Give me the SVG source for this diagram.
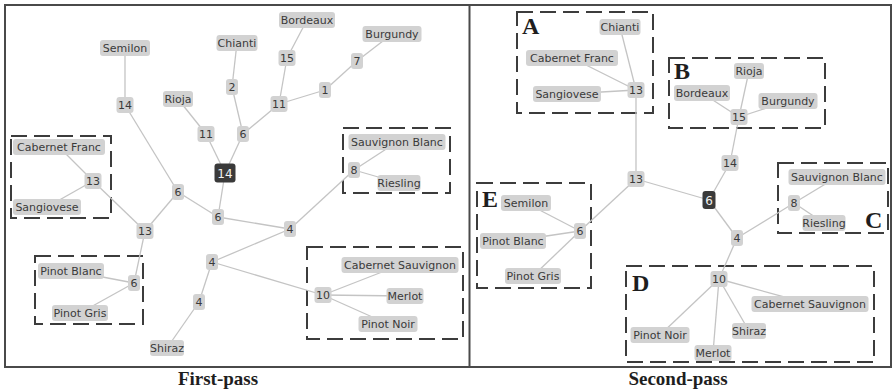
<svg xmlns="http://www.w3.org/2000/svg" width="892" height="391" viewBox="0 0 892 391">
  <style>
    .frame { fill: none; stroke: #4a4a4a; stroke-width: 2; }
    .group { fill: none; stroke: #3c3c3c; stroke-width: 2; stroke-dasharray: 16 7; }
    .edges line { stroke: #c4c4c4; stroke-width: 1.3; }
    .lab rect { fill: #d2d2d2; }
    .lab text { font-family: "DejaVu Sans", "Liberation Sans", sans-serif; font-size: 11px; fill: #3a3a3a; text-anchor: middle; }
    .dark rect { fill: #3a3a3a; }
    .dark text { fill: #f2f2f2; font-size: 12px; }
    .tag { font-family: "Liberation Serif", serif; font-weight: bold; font-size: 24px; fill: #1e1e1e; }
    .title { font-family: "Liberation Serif", serif; font-weight: bold; font-size: 19px; fill: #1e1e1e; text-anchor: middle; }
  </style>

  <rect width="892" height="391" fill="#ffffff"/>

  <!-- outer frame and panel divider -->
  <rect class="frame" x="5" y="5" width="886" height="362"/>
  <line class="frame" x1="469.5" y1="5" x2="469.5" y2="367"/>

  <!-- dashed cluster boxes -->
  <g id="clusters">
    <rect class="group" x="11" y="136" width="100" height="82"/>
    <rect class="group" x="35" y="256" width="108" height="68"/>
    <rect class="group" x="343" y="128" width="107" height="65"/>
    <rect class="group" x="307" y="247" width="156" height="92"/>
    <rect class="group" x="517" y="12" width="136" height="101"/>
    <rect class="group" x="669" y="58" width="156" height="70"/>
    <rect class="group" x="778" y="163" width="110" height="70"/>
    <rect class="group" x="626" y="266" width="248" height="96"/>
    <rect class="group" x="477" y="183" width="114" height="105"/>
  </g>

  <!-- connectors -->
  <g id="connectors" class="edges">
    <!-- first pass -->
    <line x1="125" y1="48" x2="125" y2="105"/>
    <line x1="125" y1="105" x2="178" y2="192"/>
    <line x1="178" y1="192" x2="145" y2="231"/>
    <line x1="178" y1="192" x2="218" y2="217"/>
    <line x1="145" y1="231" x2="93" y2="181"/>
    <line x1="93" y1="181" x2="59" y2="147"/>
    <line x1="93" y1="181" x2="47" y2="207"/>
    <line x1="145" y1="231" x2="134" y2="283"/>
    <line x1="134" y1="283" x2="71" y2="271"/>
    <line x1="134" y1="283" x2="80" y2="313"/>
    <line x1="237" y1="43" x2="232" y2="87"/>
    <line x1="232" y1="87" x2="243" y2="134"/>
    <line x1="243" y1="134" x2="225" y2="173"/>
    <line x1="243" y1="134" x2="279" y2="104"/>
    <line x1="279" y1="104" x2="287" y2="58"/>
    <line x1="287" y1="58" x2="307" y2="20"/>
    <line x1="279" y1="104" x2="325" y2="90"/>
    <line x1="325" y1="90" x2="357" y2="61"/>
    <line x1="357" y1="61" x2="392" y2="34"/>
    <line x1="178" y1="99" x2="206" y2="134"/>
    <line x1="206" y1="134" x2="225" y2="173"/>
    <line x1="225" y1="173" x2="218" y2="217"/>
    <line x1="218" y1="217" x2="290" y2="229"/>
    <line x1="290" y1="229" x2="354" y2="170"/>
    <line x1="354" y1="170" x2="397" y2="142"/>
    <line x1="354" y1="170" x2="399" y2="183"/>
    <line x1="290" y1="229" x2="212" y2="262"/>
    <line x1="212" y1="262" x2="199" y2="302"/>
    <line x1="199" y1="302" x2="167" y2="348"/>
    <line x1="212" y1="262" x2="323" y2="295"/>
    <line x1="323" y1="295" x2="400" y2="265"/>
    <line x1="323" y1="295" x2="405" y2="296"/>
    <line x1="323" y1="295" x2="388" y2="324"/>
    <!-- second pass -->
    <line x1="620" y1="27" x2="636" y2="90"/>
    <line x1="572" y1="58" x2="636" y2="90"/>
    <line x1="567" y1="94" x2="636" y2="90"/>
    <line x1="636" y1="90" x2="636" y2="179"/>
    <line x1="636" y1="179" x2="580" y2="231"/>
    <line x1="636" y1="179" x2="709" y2="200"/>
    <line x1="580" y1="231" x2="526" y2="203"/>
    <line x1="580" y1="231" x2="513" y2="241"/>
    <line x1="580" y1="231" x2="533" y2="276"/>
    <line x1="709" y1="200" x2="730" y2="163"/>
    <line x1="730" y1="163" x2="739" y2="117"/>
    <line x1="739" y1="117" x2="749" y2="71"/>
    <line x1="739" y1="117" x2="702" y2="93"/>
    <line x1="739" y1="117" x2="788" y2="101"/>
    <line x1="709" y1="200" x2="737" y2="238"/>
    <line x1="737" y1="238" x2="794" y2="203"/>
    <line x1="794" y1="203" x2="837" y2="177"/>
    <line x1="794" y1="203" x2="824" y2="223"/>
    <line x1="737" y1="238" x2="719" y2="279"/>
    <line x1="719" y1="279" x2="810" y2="304"/>
    <line x1="719" y1="279" x2="749" y2="331"/>
    <line x1="719" y1="279" x2="713" y2="353"/>
    <line x1="719" y1="279" x2="660" y2="335"/>
  </g>

  <!-- first-pass nodes -->
  <g id="f-semilon" class="lab"><rect x="100" y="40" width="50" height="16" rx="3"/><text x="125" y="52">Semilon</text></g>
  <g id="f-14a" class="lab"><rect x="116.5" y="97" width="17" height="16" rx="3"/><text x="125" y="109">14</text></g>
  <g id="f-chianti" class="lab"><rect x="216.5" y="35" width="41" height="16" rx="3"/><text x="237" y="47">Chianti</text></g>
  <g id="f-2" class="lab"><rect x="226" y="79" width="12" height="16" rx="3"/><text x="232" y="91">2</text></g>
  <g id="f-rioja" class="lab"><rect x="163" y="91" width="30" height="16" rx="3"/><text x="178" y="103">Rioja</text></g>
  <g id="f-11a" class="lab"><rect x="197.5" y="126" width="17" height="16" rx="3"/><text x="206" y="138">11</text></g>
  <g id="f-6a" class="lab"><rect x="237" y="126" width="12" height="16" rx="3"/><text x="243" y="138">6</text></g>
  <g id="f-14root" class="lab dark"><rect x="214.5" y="163.5" width="21" height="19" rx="3"/><text x="225" y="177.5">14</text></g>
  <g id="f-bordeaux" class="lab"><rect x="279" y="12" width="56" height="16" rx="3"/><text x="307" y="24">Bordeaux</text></g>
  <g id="f-15" class="lab"><rect x="278.5" y="50" width="17" height="16" rx="3"/><text x="287" y="62">15</text></g>
  <g id="f-11b" class="lab"><rect x="270.5" y="96" width="17" height="16" rx="3"/><text x="279" y="108">11</text></g>
  <g id="f-1" class="lab"><rect x="319" y="82" width="12" height="16" rx="3"/><text x="325" y="94">1</text></g>
  <g id="f-7" class="lab"><rect x="351" y="53" width="12" height="16" rx="3"/><text x="357" y="65">7</text></g>
  <g id="f-burgundy" class="lab"><rect x="362.5" y="26" width="59" height="16" rx="3"/><text x="392" y="38">Burgundy</text></g>
  <g id="f-cabfranc" class="lab"><rect x="13" y="139" width="92" height="16" rx="3"/><text x="59" y="151">Cabernet Franc</text></g>
  <g id="f-13a" class="lab"><rect x="84.5" y="173" width="17" height="16" rx="3"/><text x="93" y="185">13</text></g>
  <g id="f-sangiovese" class="lab"><rect x="13" y="199" width="68" height="16" rx="3"/><text x="47" y="211">Sangiovese</text></g>
  <g id="f-6b" class="lab"><rect x="172" y="184" width="12" height="16" rx="3"/><text x="178" y="196">6</text></g>
  <g id="f-13b" class="lab"><rect x="136.5" y="223" width="17" height="16" rx="3"/><text x="145" y="235">13</text></g>
  <g id="f-6c" class="lab"><rect x="212" y="209" width="12" height="16" rx="3"/><text x="218" y="221">6</text></g>
  <g id="f-4a" class="lab"><rect x="284" y="221" width="12" height="16" rx="3"/><text x="290" y="233">4</text></g>
  <g id="f-4b" class="lab"><rect x="206" y="254" width="12" height="16" rx="3"/><text x="212" y="266">4</text></g>
  <g id="f-4c" class="lab"><rect x="193" y="294" width="12" height="16" rx="3"/><text x="199" y="306">4</text></g>
  <g id="f-shiraz" class="lab"><rect x="150" y="340" width="34" height="16" rx="3"/><text x="167" y="352">Shiraz</text></g>
  <g id="f-pinotblanc" class="lab"><rect x="38" y="263" width="66" height="16" rx="3"/><text x="71" y="275">Pinot Blanc</text></g>
  <g id="f-6d" class="lab"><rect x="128" y="275" width="12" height="16" rx="3"/><text x="134" y="287">6</text></g>
  <g id="f-pinotgris" class="lab"><rect x="52" y="305" width="56" height="16" rx="3"/><text x="80" y="317">Pinot Gris</text></g>
  <g id="f-sauvblanc" class="lab"><rect x="348.5" y="134" width="97" height="16" rx="3"/><text x="397" y="146">Sauvignon Blanc</text></g>
  <g id="f-8" class="lab"><rect x="348" y="162" width="12" height="16" rx="3"/><text x="354" y="174">8</text></g>
  <g id="f-riesling" class="lab"><rect x="377.5" y="175" width="43" height="16" rx="3"/><text x="399" y="187">Riesling</text></g>
  <g id="f-cabsauv" class="lab"><rect x="341.5" y="257" width="117" height="16" rx="3"/><text x="400" y="269">Cabernet Sauvignon</text></g>
  <g id="f-10" class="lab"><rect x="314.5" y="287" width="17" height="16" rx="3"/><text x="323" y="299">10</text></g>
  <g id="f-merlot" class="lab"><rect x="386.5" y="288" width="37" height="16" rx="3"/><text x="405" y="300">Merlot</text></g>
  <g id="f-pinotnoir" class="lab"><rect x="358.5" y="316" width="59" height="16" rx="3"/><text x="388" y="328">Pinot Noir</text></g>

  <!-- second-pass nodes -->
  <g id="s-chianti" class="lab"><rect x="599.5" y="19" width="41" height="16" rx="3"/><text x="620" y="31">Chianti</text></g>
  <g id="s-cabfranc" class="lab"><rect x="526" y="50" width="92" height="16" rx="3"/><text x="572" y="62">Cabernet Franc</text></g>
  <g id="s-sangiovese" class="lab"><rect x="533" y="86" width="68" height="16" rx="3"/><text x="567" y="98">Sangiovese</text></g>
  <g id="s-13a" class="lab"><rect x="627.5" y="82" width="17" height="16" rx="3"/><text x="636" y="94">13</text></g>
  <g id="s-13b" class="lab"><rect x="627.5" y="171" width="17" height="16" rx="3"/><text x="636" y="183">13</text></g>
  <g id="s-6e" class="lab"><rect x="574" y="223" width="12" height="16" rx="3"/><text x="580" y="235">6</text></g>
  <g id="s-semilon" class="lab"><rect x="501" y="195" width="50" height="16" rx="3"/><text x="526" y="207">Semilon</text></g>
  <g id="s-pinotblanc" class="lab"><rect x="480" y="233" width="66" height="16" rx="3"/><text x="513" y="245">Pinot Blanc</text></g>
  <g id="s-pinotgris" class="lab"><rect x="505" y="268" width="56" height="16" rx="3"/><text x="533" y="280">Pinot Gris</text></g>
  <g id="s-6root" class="lab dark"><rect x="702.5" y="191" width="13" height="18" rx="3"/><text x="709" y="204.5">6</text></g>
  <g id="s-14" class="lab"><rect x="721.5" y="155" width="17" height="16" rx="3"/><text x="730" y="167">14</text></g>
  <g id="s-15" class="lab"><rect x="730.5" y="109" width="17" height="16" rx="3"/><text x="739" y="121">15</text></g>
  <g id="s-rioja" class="lab"><rect x="734" y="63" width="30" height="16" rx="3"/><text x="749" y="75">Rioja</text></g>
  <g id="s-bordeaux" class="lab"><rect x="674" y="85" width="56" height="16" rx="3"/><text x="702" y="97">Bordeaux</text></g>
  <g id="s-burgundy" class="lab"><rect x="758.5" y="93" width="59" height="16" rx="3"/><text x="788" y="105">Burgundy</text></g>
  <g id="s-4" class="lab"><rect x="731" y="230" width="12" height="16" rx="3"/><text x="737" y="242">4</text></g>
  <g id="s-8" class="lab"><rect x="788" y="195" width="12" height="16" rx="3"/><text x="794" y="207">8</text></g>
  <g id="s-sauvblanc" class="lab"><rect x="788.5" y="169" width="97" height="16" rx="3"/><text x="837" y="181">Sauvignon Blanc</text></g>
  <g id="s-riesling" class="lab"><rect x="802.5" y="215" width="43" height="16" rx="3"/><text x="824" y="227">Riesling</text></g>
  <g id="s-10" class="lab"><rect x="710.5" y="271" width="17" height="16" rx="3"/><text x="719" y="283">10</text></g>
  <g id="s-cabsauv" class="lab"><rect x="751.5" y="296" width="117" height="16" rx="3"/><text x="810" y="308">Cabernet Sauvignon</text></g>
  <g id="s-shiraz" class="lab"><rect x="732" y="323" width="34" height="16" rx="3"/><text x="749" y="335">Shiraz</text></g>
  <g id="s-merlot" class="lab"><rect x="694.5" y="345" width="37" height="16" rx="3"/><text x="713" y="357">Merlot</text></g>
  <g id="s-pinotnoir" class="lab"><rect x="630.5" y="327" width="59" height="16" rx="3"/><text x="660" y="339">Pinot Noir</text></g>

  <!-- cluster letters -->
  <text class="tag" x="522" y="34">A</text>
  <text class="tag" x="674" y="79">B</text>
  <text class="tag" x="865" y="228">C</text>
  <text class="tag" x="632" y="291">D</text>
  <text class="tag" x="482" y="207">E</text>

  <!-- panel titles -->
  <text class="title" x="218" y="385">First-pass</text>
  <text class="title" x="678" y="385">Second-pass</text>
</svg>
